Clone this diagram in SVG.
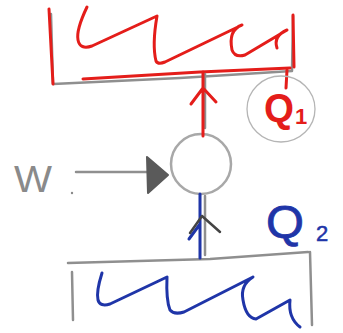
<svg xmlns="http://www.w3.org/2000/svg" width="343" height="333" viewBox="0 0 343 333">
<style>
.red{fill:none;stroke:#e41d1a;stroke-width:3;stroke-linecap:round;stroke-linejoin:round}
.gray{fill:none;stroke:#8f8f8f;stroke-width:2.5;stroke-linecap:round;stroke-linejoin:round}
.lgray{fill:none;stroke:#b5b5b5;stroke-width:1.3}
.blue{fill:none;stroke:#1f35a8;stroke-width:3;stroke-linecap:round;stroke-linejoin:round}
.dark{fill:none;stroke:#444;stroke-width:2.5;stroke-linecap:round;stroke-linejoin:round}
.lbl{font-family:"Liberation Sans",Arial,sans-serif}
</style>
<rect width="343" height="333" fill="#fff"/>
<g id="hot-reservoir">
<path class="gray" d="M51,14 L53,84 L180,78 L292,71 L293,16"/>
<path class="red" d="M49,9 L53,84"/>
<path class="red" d="M83,79 L200,72 L290,68"/>
<path class="red" d="M293,15 L294,67 M287,70 L286,88"/>
<path class="red" d="M87,7 Q76,30 78,40 Q80,50 92,46 L157,16 Q152,45 156,61 Q158,65 165,62 L242,25 Q228,30 232,50 Q235,58 245,55 L287,30 Q273,36 277,48"/>
</g>
<g id="cold-reservoir">
<path class="gray" d="M68,263 L210,259 L308,252 M310,252 L312,325 M72,272 L73,320"/>
<path class="blue" d="M102,273 Q96,292 98,300 Q100,307 110,304 L167,277 Q166,300 170,310 Q174,315 184,312 L253,277 Q240,285 243,300 Q246,318 256,319 L290,300 Q288,318 300,327"/>
</g>
<g id="engine">
<circle cx="201" cy="164" r="30" fill="#fff" stroke="#a8a8a8" stroke-width="2.5"/>
</g>
<g id="label-W">
<text class="lbl" x="14" y="192" font-size="36" fill="#8a8a8a" textLength="38" lengthAdjust="spacingAndGlyphs">W</text>
<circle cx="72" cy="193" r="1.2" fill="#8a8a8a"/>
</g>
<g id="label-Q1">
<ellipse cx="281" cy="109" rx="34" ry="33" class="lgray"/>
<text class="lbl" x="264" y="122" font-size="40" font-weight="bold" fill="#e41d1a" textLength="30" lengthAdjust="spacingAndGlyphs">Q</text>
<text class="lbl" x="295" y="124" font-size="22" font-weight="bold" fill="#e41d1a">1</text>
</g>
<g id="label-Q2">
<text class="lbl" x="266" y="238" font-size="46" fill="#1f35a8" stroke="#1f35a8" stroke-width="0.8" textLength="38" lengthAdjust="spacingAndGlyphs">Q</text>
<text class="lbl" x="316" y="241" font-size="22" fill="#1f35a8" stroke="#1f35a8" stroke-width="0.5">2</text>
</g>
<g id="connectors">
<path class="gray" d="M205,74 L205,128"/>
<path class="red" d="M203,136 L203,72 M203,88 L191,104 M203,88 L216,102"/>
<path class="gray" d="M76,172 L148,172"/>
<path d="M147,157 L148,193 L168,175 Z" fill="#5a5a5a" stroke="#5a5a5a" stroke-width="2" stroke-linejoin="round"/>
<path class="gray" d="M205,196 L205,255"/>
<path class="blue" d="M200,194 L200,258 M200,224 L189,239"/>
<path class="dark" d="M202,216 L190,233 M202,216 L220,232"/>
</g>
</svg>
